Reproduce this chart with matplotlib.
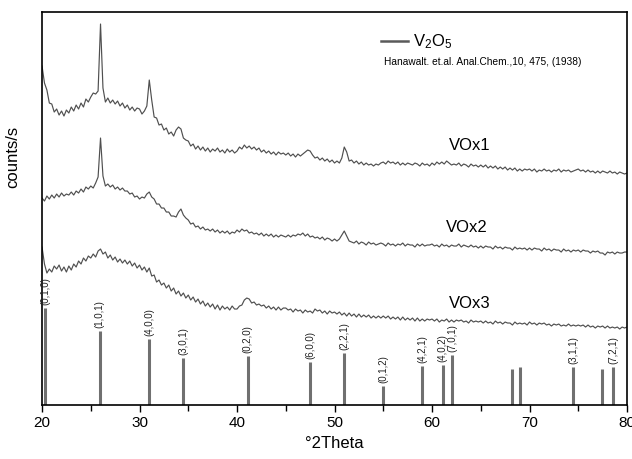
import numpy as np
import matplotlib.pyplot as plt
from matplotlib.ticker import MultipleLocator
from matplotlib.lines import Line2D

plt.rcParams['font.family'] = 'Liberation Sans'
plt.rcParams['mathtext.fontset'] = 'custom'
plt.rcParams['mathtext.rm'] = 'Liberation Sans'
plt.rcParams['mathtext.it'] = 'Liberation Sans:italic'

# scan grid, 0.25 deg steps
two_theta = np.linspace(20, 80, 241)

# intensities (arbitrary counts, stacked)
vox1 = [
    339, 322, 315, 302, 301, 293, 296, 290, 294, 289, 295, 292, 298, 294, 300, 296, 302, 298, 306, 303,
    308, 312, 311, 314, 381, 317, 303, 307, 302, 305, 301, 304, 299, 302, 297, 300, 295, 298, 294, 297,
    296, 291, 294, 299, 325, 305, 288, 287, 280, 281, 275, 277, 271, 273, 269, 275, 278, 276, 267, 265,
    264, 259, 261, 256, 259, 255, 258, 254, 257, 253, 256, 254, 257, 253, 255, 252, 256, 253, 255, 252,
    254, 258, 256, 260, 257, 259, 256, 258, 255, 257, 253, 255, 252, 254, 251, 253, 250, 253, 251, 252,
    250, 252, 249, 251, 248, 251, 249, 251, 253, 255, 254, 250, 247, 248, 245, 247, 244, 246, 243, 245,
    242, 244, 242, 247, 258, 253, 244, 245, 242, 244, 241, 243, 240, 242, 240, 241, 239, 241, 240, 242,
    243, 241, 244, 242, 243, 241, 243, 240, 242, 240, 242, 241, 240, 242, 241, 239, 242, 240, 241, 239,
    242, 240, 243, 241, 243, 241, 244, 242, 240, 241, 240, 242, 239, 241, 240, 238, 241, 239, 240, 238,
    240, 238, 240, 237, 239, 237, 239, 236, 238, 236, 238, 235, 237, 235, 237, 234, 236, 234, 236, 235,
    236, 234, 236, 233, 235, 234, 236, 234, 235, 233, 235, 234, 236, 233, 235, 234, 235, 233, 234, 235,
    236, 234, 235, 233, 235, 233, 234, 232, 234, 232, 234, 233, 232, 234, 232, 233, 231, 233, 232, 231,
    232,
]
vox2 = [
    207, 204, 209, 206, 210, 207, 211, 208, 212, 209, 211, 210, 213, 210, 214, 212, 216, 213, 218, 216,
    219, 217, 222, 228, 267, 229, 219, 221, 218, 220, 216, 218, 215, 217, 214, 214, 211, 212, 208, 209,
    206, 208, 207, 211, 213, 208, 206, 201, 201, 197, 197, 193, 193, 189, 189, 188, 193, 196, 190, 187,
    185, 181, 182, 178, 179, 176, 178, 175, 176, 174, 176, 173, 175, 172, 174, 172, 174, 171, 173, 172,
    175, 173, 176, 174, 175, 172, 173, 171, 172, 170, 172, 169, 171, 169, 171, 168, 170, 168, 170, 169,
    168, 170, 168, 170, 169, 171, 170, 172, 169, 171, 168, 169, 167, 168, 166, 168, 165, 167, 166, 164,
    166, 164, 166, 170, 174, 169, 164, 163, 162, 164, 161, 163, 162, 160, 163, 161, 162, 160, 161, 162,
    161, 159, 162, 160, 161, 159, 161, 160, 162, 159, 161, 160, 160, 158, 161, 159, 161, 159, 160, 160,
    161, 159, 160, 158, 161, 159, 160, 158, 160, 159, 159, 161, 158, 160, 159, 158, 160, 158, 159, 157,
    159, 157, 159, 158, 158, 156, 159, 157, 158, 156, 158, 157, 157, 155, 158, 156, 157, 156, 157, 155,
    157, 155, 157, 156, 156, 154, 157, 155, 156, 154, 156, 155, 155, 153, 156, 154, 155, 153, 155, 154,
    155, 153, 155, 154, 154, 152, 154, 153, 154, 152, 152, 150, 153, 152, 153, 151, 153, 152, 152, 153,
    153,
]
vox3 = [
    158, 141, 132, 136, 133, 139, 136, 140, 134, 138, 133, 139, 135, 141, 138, 144, 141, 147, 144, 149,
    147, 151, 148, 154, 156, 151, 153, 147, 150, 145, 148, 143, 146, 142, 145, 141, 144, 139, 142, 137,
    140, 135, 138, 133, 137, 129, 130, 123, 125, 120, 122, 117, 120, 114, 117, 111, 114, 109, 112, 107,
    110, 105, 108, 103, 106, 101, 104, 99, 102, 98, 101, 96, 100, 95, 99, 96, 98, 95, 99, 96,
    96, 99, 100, 105, 107, 106, 102, 103, 100, 101, 99, 100, 97, 99, 96, 98, 95, 98, 95, 97,
    97, 95, 96, 93, 96, 94, 95, 92, 95, 93, 94, 92, 96, 94, 95, 92, 94, 91, 94, 92,
    93, 91, 93, 90, 92, 89, 92, 89, 91, 88, 91, 88, 90, 88, 90, 87, 89, 87, 89, 87,
    89, 87, 89, 86, 88, 86, 88, 85, 88, 85, 87, 85, 87, 84, 87, 84, 86, 84, 86, 85,
    86, 84, 86, 83, 85, 84, 86, 83, 85, 83, 85, 84, 85, 83, 84, 82, 85, 83, 84, 83,
    84, 82, 84, 82, 83, 81, 84, 82, 83, 81, 83, 82, 82, 80, 83, 81, 82, 81, 82, 80,
    83, 81, 82, 80, 82, 81, 82, 80, 81, 79, 81, 80, 81, 79, 80, 79, 81, 79, 80, 79,
    80, 79, 80, 78, 80, 78, 79, 77, 79, 78, 79, 77, 79, 77, 78, 77, 78, 76, 78, 77,
    78,
]
curve_names = ['VOx1', 'VOx2', 'VOx3']

# V2O5 reference pattern (Hanawalt 1938)
ref_pos = [20.3, 25.9, 31.0, 34.5, 41.1, 47.5, 51.0, 55.0, 59.0, 61.1, 62.1, 68.2, 69.0, 74.5, 77.4, 78.6]
ref_int = [97, 74, 66, 47, 49, 43, 52, 19, 39, 40, 50, 36, 38, 38, 36, 38]
ref_hkl = ['(0,1,0)', '(1,0,1)', '(4,0,0)', '(3,0,1)', '(0,2,0)', '(6,0,0)', '(2,2,1)', '(0,1,2)',
           '(4,2,1)', '(4,0,2)', '(7,0,1)', '', '', '(3,1,1)', '', '(7,2,1)']

fig = plt.figure(figsize=(6.32, 4.59), dpi=100, facecolor='white')
ax = fig.add_axes([0.0665, 0.1176, 0.9256, 0.8562])

for y in (vox1, vox2, vox3):
    ax.plot(two_theta, y, color='#4f4f4f', linewidth=0.85)

ax.vlines(ref_pos, 0, ref_int, color='#707070', linewidth=2.2)
for p, h, lab in zip(ref_pos, ref_int, ref_hkl):
    if lab:
        ax.text(p, h + 3, lab, rotation=90, ha='center', va='bottom', fontsize=7, color='#222222')

# sample names next to the curves
ax.text(61.7, 260, curve_names[0], fontsize=12, va='center', ha='left')
ax.text(61.4, 178, curve_names[1], fontsize=12, va='center', ha='left')
ax.text(61.7, 102, curve_names[2], fontsize=12, va='center', ha='left')

handle = Line2D([], [], color='#5a5a5a', linewidth=1.8)
ax.legend([handle], [r'V$_2$O$_5$'], loc='center left', bbox_to_anchor=(0.580, 0.924),
          frameon=False, fontsize=12, handlelength=1.6, handletextpad=0.3,
          borderpad=0, borderaxespad=0)
ax.text(0.584, 0.873, 'Hanawalt. et.al. Anal.Chem.,10, 475, (1938)', transform=ax.transAxes,
        fontsize=7.3, va='center', ha='left')

ax.set_xlim(20, 80)
ax.set_ylim(0, 393)
ax.xaxis.set_major_locator(MultipleLocator(10))
ax.xaxis.set_minor_locator(MultipleLocator(5))
ax.tick_params(axis='x', which='major', direction='out', length=5, width=1, labelsize=11, pad=3)
ax.tick_params(axis='x', which='minor', direction='out', length=4, width=1)
ax.tick_params(axis='y', left=False, labelleft=False)
for s in ax.spines.values():
    s.set_linewidth(1.2)

ax.set_xlabel('°2Theta', fontsize=12)
ax.set_ylabel('counts/s', fontsize=12)
ax.yaxis.set_label_coords(-0.037, 0.63)

fig.savefig('out.png', dpi=100, facecolor='white')
